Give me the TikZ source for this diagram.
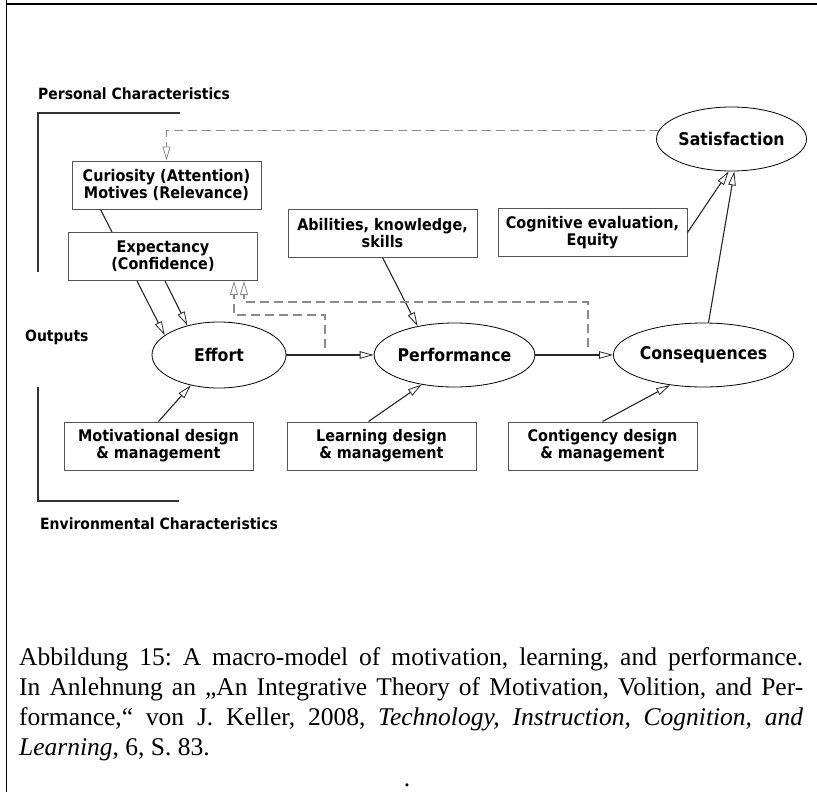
\documentclass[tikz,border=0pt]{standalone}
\usepackage{fontspec}
\setmainfont{Liberation Serif}
\newfontfamily\diafont{DejaVu Sans}[FakeStretch=0.9]
\usetikzlibrary{shapes.geometric,arrows.meta,calc}

\definecolor{boxgray}{HTML}{555555}
\definecolor{fbgray}{HTML}{8A8A8A}
\definecolor{rulegray}{HTML}{333333}

\tikzset{
  box/.style={draw=boxgray, line width=1pt, fill=white, minimum width=189pt,
    minimum height=48pt, inner sep=0pt, align=center,
    font=\diafont\bfseries\fontsize{16}{17}\selectfont},
  oval/.style={ellipse, draw=black, line width=0.8pt, fill=white, inner sep=0pt,
    font=\diafont\bfseries\fontsize{17.5}{20}\selectfont},
  label/.style={inner sep=0pt, font=\diafont\bfseries\fontsize{15.5}{17}\selectfont},
  link/.style={draw=black!85, line width=1.1pt,
    -{Triangle[open, length=14pt, width=7.5pt, line width=0.8pt]}},
  fb/.style={draw=fbgray, line width=1.1pt, dash pattern=on 9pt off 5pt,
    -{Triangle[open, length=14pt, width=8pt, line width=0.8pt, fill=white]}},
  bracket/.style={draw=rulegray, line width=1.6pt}
}

\begin{document}
\begin{tikzpicture}[x=1pt, y=-1pt]
\useasboundingbox (0,0) rectangle (817,792);

% frame
\draw[line width=1.8pt] (6.5,0) -- (6.5,792);
\draw[line width=1.8pt] (6.5,4) -- (817,4);

% side brackets and labels
\draw[bracket] (180,113) -- (38,113) -- (38,272);
\draw[bracket] (38,387) -- (38,501) -- (179,501);
\node[label, anchor=west] (personal) at (38,94) {Personal Characteristics};
\node[label, anchor=west] (outputs) at (25,337) {Outputs};
\node[label, anchor=west] (environ) at (40,524) {Environmental Characteristics};

% ovals
\node[oval, minimum width=134pt, minimum height=66pt] (effort) at (219,355) {Effort};
\node[oval, minimum width=133pt, minimum height=64pt] (perf) at (454.5,355) {Performance};
\node[oval, minimum width=131pt, minimum height=64pt] (cons) at (703.5,355) {Consequences};
\node[oval, minimum width=133pt, minimum height=64pt] (satis) at (731.5,139) {Satisfaction};

% curiosity line runs behind the expectancy box
\node[box] (curio) at (166.5,185) {Curiosity (Attention)\\Motives (Relevance)};
\draw[link] ($(curio.south west)+(29,0)$) -- (effort.160);

\node[box] (expect) at (163,256.5) {Expectancy\\(Confidence)};
\node[box] (abil) at (382.5,233) {Abilities, knowledge,\\skills};
\node[box] (cogn) at (592.5,232.5) {Cognitive evaluation,\\Equity};
\node[box] (motiv) at (158.5,446) {Motivational design\\\& management};
\node[box] (learn) at (381.5,446) {Learning design\\\& management};
\node[box] (conti) at (602.5,446) {Contigency design\\\& management};

% main flow
\draw[link] ($(expect.south west)+(97,0)$) -- (effort.137);
\draw[link] (effort.east) -- (perf.west);
\draw[link] (perf.east) -- (cons.west);
\draw[link] (abil.south) -- (perf.142);
\draw[link] (motiv.north) -- (effort.227);
\draw[link] ($(learn.north west)+(82,0)$) -- (perf.222);
\draw[link] (conti.north) -- (cons.222);
\draw[link] ($(cons.north)+(5,0)$) -- (satis.275);
\draw[link] (cogn.east) -- (satis.265);

% feedback paths
\coordinate (fbeffort) at (325,348);
\coordinate (fbperf) at (588,347);
\draw[fb] (satis.173) -| (curio.north);
\draw[fb] (fbeffort) -- ++(0,-33) -| ($(expect.south east)+(-24,0)$);
\draw[fb] (fbperf) -- ++(0,-45) -| ($(expect.south east)+(-14,0)$);

% caption
\node[anchor=north west, inner sep=0pt, align=left,
      font=\frenchspacing\fontsize{25.5}{30}\selectfont] (caption) at (19,647) {%
\makebox[784pt][s]{Abbildung 15: A macro-model of motivation, learning, and performance.}\\
\makebox[784pt][s]{In Anlehnung an „An Integrative Theory of Motivation, Volition, and Per-}\\
\makebox[784pt][s]{formance,“ von J. Keller, 2008, \textit{Technology, Instruction, Cognition, and}}\\
\textit{Learning}, 6, S. 83.};
\node[inner sep=0pt, font=\fontsize{25.5}{30}\selectfont] (dot) at (407,785) {.};
\end{tikzpicture}
\end{document}
